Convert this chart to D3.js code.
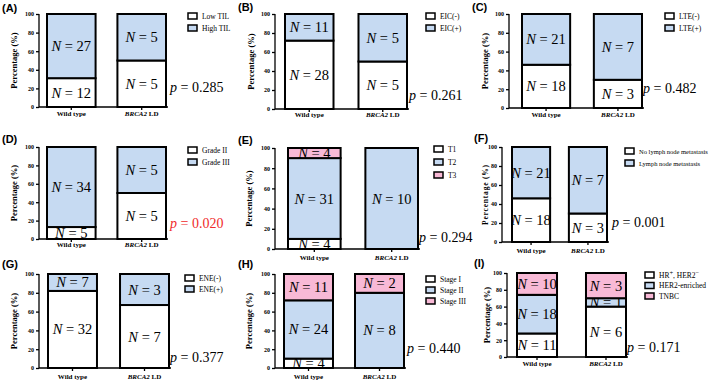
<!DOCTYPE html>
<html lang="en">
<head>
<meta charset="UTF-8">
<title>BRCA2 LD stacked bars</title>
<script src="https://d3js.org/d3.v7.min.js"></script>
<style>
    body { margin: 0; background: #fff; }
    svg { display: block; }
    .tick text { font-family: "Liberation Serif", serif; font-weight: bold; font-size: 6px; }
    .axis path, .axis line { stroke: #000; stroke-width: 1.3px; }
</style>
</head>
<body>
<script>
    // ---- data ----
    const groups = ["Wild type", "BRCA2 LD"];
    const panelLetters = ["A", "B", "C", "D", "E", "F", "G", "H", "I"];
    const seriesNames = [
        ["Low TIL", "High TIL"],
        ["EIC(-)", "EIC(+)"],
        ["LTE(-)", "LTE(+)"],
        ["Grade II", "Grade III"],
        ["T1", "T2", "T3"],
        ["No lymph node metastasis", "Lymph node metastasis"],
        ["ENE(-)", "ENE(+)"],
        ["Stage I", "Stage II", "Stage III"],
        ["HR+, HER2-", "HER2-enriched", "TNBC"]
    ];
    // percentages per segment, bottom to top
    const wildPct = [[31, 69], [72, 28], [46, 54], [13, 87], [10, 80, 10], [46, 54], [82, 18], [10, 62, 28], [28, 46, 26]];
    const brcaPct = [[50, 50], [50, 50], [30, 70], [50, 50], [0, 100, 0], [30, 70], [67, 33], [0, 80, 20], [60, 10, 30]];
    const wildN = [[12, 27], [28, 11], [18, 21], [5, 34], [4, 31, 4], [18, 21], [32, 7], [4, 24, 11], [11, 18, 10]];
    const brcaN = [[5, 5], [5, 5], [3, 7], [5, 5], [0, 10, 0], [3, 7], [7, 3], [0, 8, 2], [6, 1, 3]];
    const pValues = ["0.285", "0.261", "0.482", "0.020", "0.294", "0.001", "0.377", "0.440", "0.171"];
    const significant = [false, false, false, true, false, false, false, false, false];
    const yTicks = [0, 20, 40, 60, 80, 100];

    const fills = ["#ffffff", "#c6daf2", "#f8b9d6"];

    // ---- layout of each panel ----
    const layout = [
        { ax: 39, y0: 107, y1: 14, bx: [47, 166], pad: 0.31, lg: [188, 16], ls: 12, p: [170, 92], xl: 116, t: [2, 12], yl: 14 },
        { ax: 275, y0: 109, y1: 14, bx: [285, 407], pad: 0.34, lg: [426, 16], ls: 12, p: [409, 100], xl: 117, t: [238, 11], yl: 251 },
        { ax: 509, y0: 108, y1: 14, bx: [522, 642], pad: 0.33, lg: [665, 16], ls: 12, p: [643, 93], xl: 117, t: [472, 11], yl: 485 },
        { ax: 39, y0: 239, y1: 147, bx: [47, 166], pad: 0.31, lg: [188, 150], ls: 12, p: [170, 228], xl: 247, t: [2, 143], yl: 14 },
        { ax: 275, y0: 249, y1: 148, bx: [288, 418], pad: 0.32, lg: [434, 149], ls: 13, p: [419, 242], xl: 260, t: [238, 144], yl: 249 },
        { ax: 502, y0: 242, y1: 147, bx: [512, 607], pad: 0.33, lg: [625, 151], ls: 12, p: [612, 227], xl: 253, t: [474, 142], yl: 485, small: true },
        { ax: 39, y0: 368, y1: 274, bx: [48, 169], pad: 0.32, lg: [185, 278], ls: 11, p: [170, 362], xl: 379, t: [2, 268], yl: 14 },
        { ax: 275, y0: 368, y1: 274, bx: [284, 404], pad: 0.31, lg: [426, 279], ls: 11, p: [407, 353], xl: 379, t: [238, 268], yl: 249 },
        { ax: 507, y0: 357, y1: 273, bx: [517, 626], pad: 0.42, lg: [645, 275], ls: 10.5, p: [627, 352], xl: 366, t: [474, 267], yl: 487 }
    ];

    const svg = d3.select("body").append("svg")
        .attr("width", 709).attr("height", 382);
    const defs = svg.append("defs");

    panelLetters.forEach(function (letter, k) {
        const L = layout[k];
        const names = seriesNames[k];
        const keys = d3.range(names.length);
        const rows = [wildPct[k], brcaPct[k]].map(function (v, gi) {
            const r = { group: groups[gi], n: gi === 0 ? wildN[k] : brcaN[k] };
            keys.forEach(i => r[i] = v[i]);
            return r;
        });
        const series = d3.stack().keys(keys)(rows);

        const y = d3.scaleLinear().domain([0, 100]).range([L.y0, L.y1]);
        const x = d3.scaleBand().domain(groups).range(L.bx).paddingInner(L.pad).paddingOuter(0);

        const g = svg.append("g").attr("class", "panel-" + letter);

        // panel tag
        g.append("text")
            .attr("x", L.t[0]).attr("y", L.t[1])
            .attr("font-family", "Liberation Sans, Arial, sans-serif")
            .attr("font-weight", "bold").attr("font-size", 11)
            .text("(" + letter + ")");

        // segments
        series.forEach(function (layer) {
            layer.forEach(function (d, gi) {
                const h = y(d[0]) - y(d[1]);
                if (h <= 0) return;
                const id = "clip-" + letter + "-" + gi + "-" + layer.key;
                defs.append("clipPath").attr("id", id).append("rect")
                    .attr("x", x(d.data.group)).attr("y", y(d[1]))
                    .attr("width", x.bandwidth()).attr("height", h);
                g.append("rect")
                    .attr("x", x(d.data.group)).attr("y", y(d[1]))
                    .attr("width", x.bandwidth()).attr("height", h)
                    .attr("fill", fills[layer.key])
                    .attr("stroke", "#000").attr("stroke-width", 2);
                const t = g.append("text")
                    .attr("clip-path", "url(#" + id + ")")
                    .attr("x", x(d.data.group) + x.bandwidth() / 2)
                    .attr("y", (y(d[0]) + y(d[1])) / 2 + 5)
                    .attr("text-anchor", "middle")
                    .attr("font-family", "Liberation Serif, serif")
                    .attr("font-size", 14.5);
                t.append("tspan").attr("font-style", "italic").text("N");
                t.append("tspan").text(" = " + d.data.n[layer.key]);
            });
        });

        // axes
        g.append("g").attr("class", "axis")
            .attr("transform", "translate(" + L.ax + ",0)")
            .call(d3.axisLeft(y).tickValues(yTicks).tickSize(3).tickPadding(2))
            .call(a => a.select(".domain").attr("d", "M0," + L.y0 + "V" + L.y1));
        const xa = g.append("g").attr("class", "axis")
            .attr("transform", "translate(0," + L.y0 + ")")
            .call(d3.axisBottom(x).tickSize(3).tickFormat(""));
        xa.select(".domain").attr("d", "M" + L.ax + ",0H" + (L.bx[1] + 2));
        if (L.small) g.selectAll(".tick text").attr("font-size", 5.5).attr("font-weight", "normal");

        // x labels
        groups.forEach(function (name, gi) {
            const t = g.append("text")
                .attr("x", x(name) + x.bandwidth() / 2).attr("y", L.xl)
                .attr("text-anchor", "middle")
                .attr("font-family", "Liberation Serif, serif")
                .attr("font-weight", "bold").attr("font-size", 7);
            if (gi === 0) t.text(name);
            else {
                t.append("tspan").attr("font-style", "italic").text("BRCA2");
                t.append("tspan").text(" LD");
            }
        });

        // y label
        g.append("text")
            .attr("transform", "translate(" + L.yl + "," + (L.y0 + L.y1) / 2 + ") rotate(-90)")
            .attr("text-anchor", "middle").attr("dy", "0.35em")
            .attr("font-family", "Liberation Serif, serif")
            .attr("font-weight", "bold").attr("font-size", L.small ? 7.5 : 8.5)
            .attr("letter-spacing", L.small ? 0.8 : 0)
            .text("Percentage (%)");

        // legend
        names.forEach(function (nm, i) {
            const ly = L.lg[1] + i * L.ls;
            g.append("rect")
                .attr("x", L.lg[0]).attr("y", ly - 3)
                .attr("width", 9).attr("height", 6)
                .attr("fill", fills[i]).attr("stroke", "#000").attr("stroke-width", 1.5);
            const t = g.append("text")
                .attr("x", L.lg[0] + 14).attr("y", ly + 2.5)
                .attr("font-family", "Liberation Serif, serif")
                .attr("font-size", L.small ? 6.5 : 7.5);
            if (nm === "HR+, HER2-") {
                t.append("tspan").text("HR");
                t.append("tspan").attr("dy", -2.5).attr("font-size", 6.5).text("+");
                t.append("tspan").attr("dy", 2.5).text(", HER2");
                t.append("tspan").attr("dy", -2.5).attr("font-size", 6.5).text("\u2212");
            } else t.text(nm);
        });

        // p value
        const pt = g.append("text")
            .attr("x", L.p[0]).attr("y", L.p[1])
            .attr("font-family", "Liberation Serif, serif")
            .attr("font-size", 14)
            .attr("fill", significant[k] ? "#f02a2a" : "#000");
        pt.append("tspan").attr("font-style", "italic").text("p");
        pt.append("tspan").text(" = " + pValues[k]);
    });
</script>
</body>
</html>
